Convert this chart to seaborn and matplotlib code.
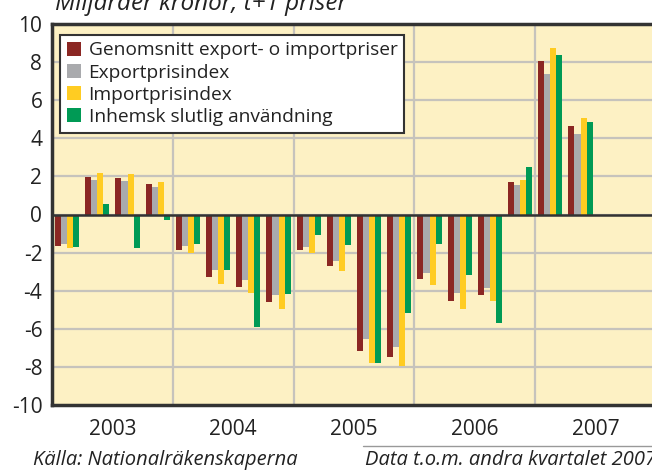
import pandas as pd
import matplotlib.pyplot as plt
import seaborn as sns
from matplotlib.lines import Line2D

# Quarterly values, 2003 Q1 - 2007 Q2
quarters = [f"{y}K{q}" for y in range(2003, 2008) for q in range(1, 5)][:18]
genomsnitt = [-1.67, 1.95, 1.89, 1.58, -1.88, -3.3, -3.82, -4.61,
              -1.88, -2.72, -7.19, -7.46, -3.4, -4.56, -4.25, 1.68, 8.05, 4.65]
export = [-1.56, 1.79, 1.74, 1.42, -1.67, -2.93, -3.46, -4.25,
          -1.72, -2.46, -6.56, -6.93, -3.09, -4.14, -3.88, 1.53, 7.36, 4.23]
import_ = [-1.77, 2.16, 2.1, 1.68, -2.04, -3.67, -4.14, -4.98,
           -2.04, -2.98, -7.82, -7.96, -3.72, -4.98, -4.56, 1.79, 8.74, 5.08]
inhemsk = [-1.72, 0.53, -1.77, -0.3, -1.56, -2.93, -5.93, -4.19,
           -1.09, -1.61, -7.82, -5.19, -1.56, -3.19, -5.72, 2.47, 8.37, 4.87]
series_names = ["Genomsnitt export- o importpriser", "Exportprisindex",
                "Importprisindex", "Inhemsk slutlig användning"]
years = ["2003", "2004", "2005", "2006", "2007"]

colors = ["#8B2723", "#A9AAAD", "#FFCC22", "#009A55"]

df = pd.DataFrame({
    "kvartal": quarters * 4,
    "serie": sum([[s] * 18 for s in series_names], []),
    "varde": genomsnitt + export + import_ + inhemsk,
})

sns.set_style("white")
plt.rcParams["font.family"] = ["Open Sans", "DejaVu Sans"]

fig = plt.figure(figsize=(6.52, 4.71), dpi=100)
ax = fig.add_axes([52 / 652, 66 / 471, 604 / 652, 381 / 471])
ax.set_facecolor("#FDF1C4")

sns.barplot(data=df, x="kvartal", y="varde", hue="serie", palette=colors,
            width=0.8, saturation=1, linewidth=0, ax=ax, zorder=3)

ax.set_xlim(-0.5, 19.5)
ax.set_ylim(-10, 10)
ax.set_yticks(range(-10, 11, 2))
ax.set_yticklabels([str(v) for v in range(-10, 11, 2)], fontsize=15, color="#222222")
ax.set_xticks([1.5, 5.5, 9.5, 13.5, 17.5])
ax.set_xticklabels(years, fontsize=15, color="#222222")
ax.tick_params(axis="both", length=0)
ax.tick_params(axis="x", pad=10)
ax.tick_params(axis="y", pad=7)
ax.set_xlabel("")
ax.set_ylabel("")

# grid
for v in range(-8, 10, 2):
    ax.axhline(v, color="#C6C3BC", lw=1.6, zorder=1)
for b in [3.5, 7.5, 11.5, 15.5]:
    ax.axvline(b, color="#C6C3BC", lw=1.6, zorder=1)
ax.axhline(0, color="#333333", lw=1.8, zorder=4)
for s in ax.spines.values():
    s.set_color("#333333")
    s.set_linewidth(2.5)

leg = ax.legend(loc="upper left", bbox_to_anchor=(0.013, 0.972), fontsize=13.8,
                frameon=True, fancybox=False, edgecolor="#333333", framealpha=1,
                handlelength=0.75, handleheight=0.75, handletextpad=0.4,
                labelspacing=0.22, borderpad=0.35, borderaxespad=0)
leg.get_frame().set_linewidth(1.5)
for t in leg.get_texts():
    t.set_color("#222222")

fig.text(55 / 652, 1 - 10 / 471, "Miljarder kronor, t+1 priser", fontsize=17.5,
         style="italic", color="#222222", va="baseline")
fig.text(33 / 652, 6 / 471, "Källa: Nationalräkenskaperna", fontsize=14.5,
         style="italic", color="#222222", va="baseline")
fig.text(365 / 652, 6 / 471, "Data t.o.m. andra kvartalet 2007", fontsize=14.5,
         style="italic", color="#222222", va="baseline")
fig.add_artist(Line2D([363 / 652, 1.0], [1 - 446 / 471, 1 - 446 / 471],
                      color="#999999", lw=1.0, transform=fig.transFigure))

fig.savefig("out.png", dpi=100)
